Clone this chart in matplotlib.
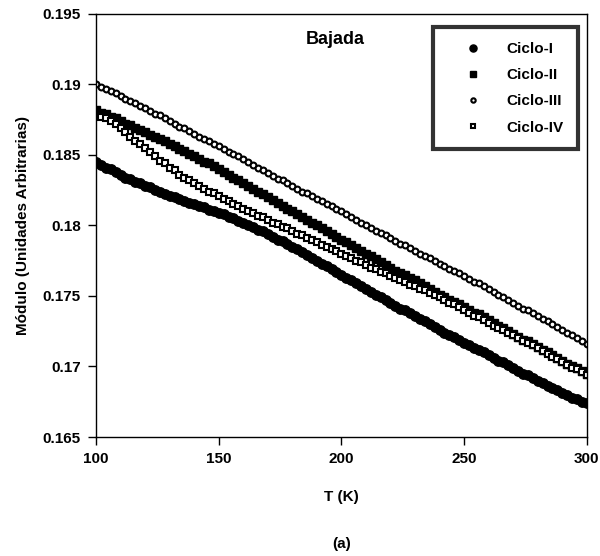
import numpy as np
import matplotlib
matplotlib.use("Agg")
import matplotlib.pyplot as plt

plt.rcParams['font.family'] = ['Liberation Sans', 'DejaVu Sans']
plt.rcParams['font.weight'] = 'bold'

# temperature grid (K), every 2 K
temp = np.arange(100, 301, 2)

ciclo_1 = [
    .1845, .1843, .1841, .1840, .1838, .1836,
    .1834, .1833, .1831, .1830, .1828,
    .1827, .1825, .1824, .1822, .1821,
    .1820, .1819, .1817, .1816, .1815,
    .1814, .1813, .1811, .1810, .1809,
    .1808, .1806, .1805, .1803, .1802,
    .1800, .1799, .1797, .1796, .1794,
    .1792, .1790, .1789, .1787, .1785,
    .1783, .1781, .1779, .1777, .1775,
    .1773, .1771, .1769, .1767, .1765,
    .1763, .1761, .1759, .1757, .1755,
    .1753, .1751, .1749, .1747, .1745,
    .1743, .1741, .1740, .1738, .1736,
    .1734, .1732, .1730, .1728, .1726,
    .1724, .1722, .1721, .1719, .1717,
    .1715, .1713, .1712, .1710, .1708,
    .1706, .1704, .1703, .1701, .1699,
    .1697, .1695, .1694, .1692, .1690,
    .1688, .1686, .1685, .1683, .1681,
    .1680, .1678, .1677, .1675, .1674,
]

ciclo_2 = [
    .1882, .1880, .1879, .1877, .1876, .1874,
    .1872, .1871, .1869, .1868, .1866,
    .1864, .1863, .1861, .1860, .1858,
    .1856, .1854, .1853, .1851, .1849,
    .1847, .1845, .1844, .1842, .1840,
    .1838, .1836, .1834, .1832, .1830,
    .1828, .1826, .1824, .1822, .1820,
    .1818, .1816, .1814, .1812, .1810,
    .1808, .1806, .1804, .1802, .1800,
    .1798, .1796, .1794, .1792, .1790,
    .1788, .1786, .1784, .1782, .1780,
    .1778, .1776, .1774, .1772, .1770,
    .1768, .1766, .1765, .1763, .1761,
    .1759, .1757, .1755, .1753, .1751,
    .1749, .1747, .1746, .1744, .1742,
    .1740, .1738, .1737, .1735, .1733,
    .1731, .1729, .1727, .1725, .1723,
    .1721, .1719, .1718, .1716, .1714,
    .1712, .1710, .1708, .1706, .1704,
    .1702, .1700, .1699, .1697, .1695,
]

ciclo_3 = [
    .1900, .1898, .1897, .1895, .1894, .1892,
    .1890, .1888, .1887, .1885, .1883,
    .1881, .1879, .1878, .1876, .1874,
    .1872, .1870, .1869, .1867, .1865,
    .1863, .1861, .1860, .1858, .1856,
    .1854, .1852, .1851, .1849, .1847,
    .1845, .1843, .1841, .1839, .1837,
    .1835, .1833, .1832, .1830, .1828,
    .1826, .1824, .1823, .1821, .1819,
    .1817, .1815, .1814, .1812, .1810,
    .1808, .1806, .1804, .1802, .1800,
    .1798, .1796, .1795, .1793, .1791,
    .1789, .1787, .1786, .1784, .1782,
    .1780, .1778, .1777, .1775, .1773,
    .1771, .1769, .1768, .1766, .1764,
    .1762, .1760, .1759, .1757, .1755,
    .1753, .1751, .1749, .1747, .1745,
    .1743, .1741, .1740, .1738, .1736,
    .1734, .1732, .1730, .1728, .1726,
    .1724, .1722, .1720, .1718, .1716,
]

ciclo_4 = [
    .1878, .1877, .1876, .1874, .1872, .1869,
    .1866, .1863, .1860, .1858, .1855,
    .1852, .1849, .1846, .1844, .1841,
    .1839, .1836, .1834, .1832, .1830,
    .1828, .1826, .1824, .1823, .1821,
    .1819, .1817, .1815, .1814, .1812,
    .1810, .1809, .1807, .1806, .1804,
    .1802, .1801, .1799, .1798, .1796,
    .1794, .1793, .1791, .1790, .1788,
    .1786, .1785, .1783, .1782, .1780,
    .1778, .1777, .1775, .1774, .1772,
    .1770, .1769, .1767, .1766, .1764,
    .1763, .1761, .1760, .1758, .1757,
    .1755, .1754, .1752, .1751, .1749,
    .1747, .1745, .1744, .1742, .1740,
    .1738, .1736, .1735, .1733, .1731,
    .1729, .1727, .1726, .1724, .1722,
    .1720, .1718, .1717, .1715, .1713,
    .1711, .1709, .1707, .1705, .1703,
    .1701, .1699, .1698, .1696, .1694,
]

x_ticks = [100, 150, 200, 250, 300]
y_ticks = [0.165, 0.17, 0.175, 0.18, 0.185, 0.19, 0.195]
y_tick_labels = ['0.165', '0.17', '0.175', '0.18', '0.185', '0.19', '0.195']

fig = plt.figure(figsize=(6.0, 5.56), dpi=100)
ax = fig.add_axes([0.16, 0.214, 0.818, 0.761])

ax.plot(temp, ciclo_1, 'o', color='black', ms=6.8, mec='black', label='Ciclo-I')
ax.plot(temp, ciclo_2, 's', color='black', ms=6.0, mec='black', label='Ciclo-II')
ax.plot(temp, ciclo_3, 'o', color='black', ms=4.2, mfc='white', mec='black',
        mew=1.5, label='Ciclo-III')
ax.plot(temp, ciclo_4, 's', color='black', ms=4.0, mfc='white', mec='black',
        mew=1.5, label='Ciclo-IV')

ax.set_xlim(100, 300)
ax.set_ylim(0.165, 0.195)
ax.set_xticks(x_ticks)
ax.set_yticks(y_ticks)
ax.set_yticklabels(y_tick_labels)
ax.tick_params(direction='out', length=6, width=1, labelsize=11, pad=5)
for lab in ax.get_xticklabels() + ax.get_yticklabels():
    lab.set_fontweight('bold')
for sp in ax.spines.values():
    sp.set_linewidth(1.0)

ax.set_xlabel('T (K)', fontsize=11, fontweight='bold', labelpad=17)
ax.set_ylabel('Módulo (Unidades Arbitrarias)', fontsize=11, fontweight='bold', labelpad=9)

ax.text(0.487, 0.94, 'Bajada', transform=ax.transAxes, ha='center', va='center',
        fontsize=13, fontweight='bold')

leg = ax.legend(loc='upper right', bbox_to_anchor=(0.983, 0.968), fontsize=11,
                frameon=True, fancybox=False, edgecolor='black', handlelength=3.4,
                handletextpad=0.5, borderpad=0.95, labelspacing=0.8, markerscale=0.75,
                borderaxespad=0.0)
leg.get_frame().set_linewidth(3.0)
for t in leg.get_texts():
    t.set_fontweight('bold')

fig.text(0.5 * (0.16 + 0.978), 1 - 544 / 556, '(a)', ha='center', va='center',
         fontsize=11, fontweight='bold')

fig.savefig('out.png', dpi=100)
